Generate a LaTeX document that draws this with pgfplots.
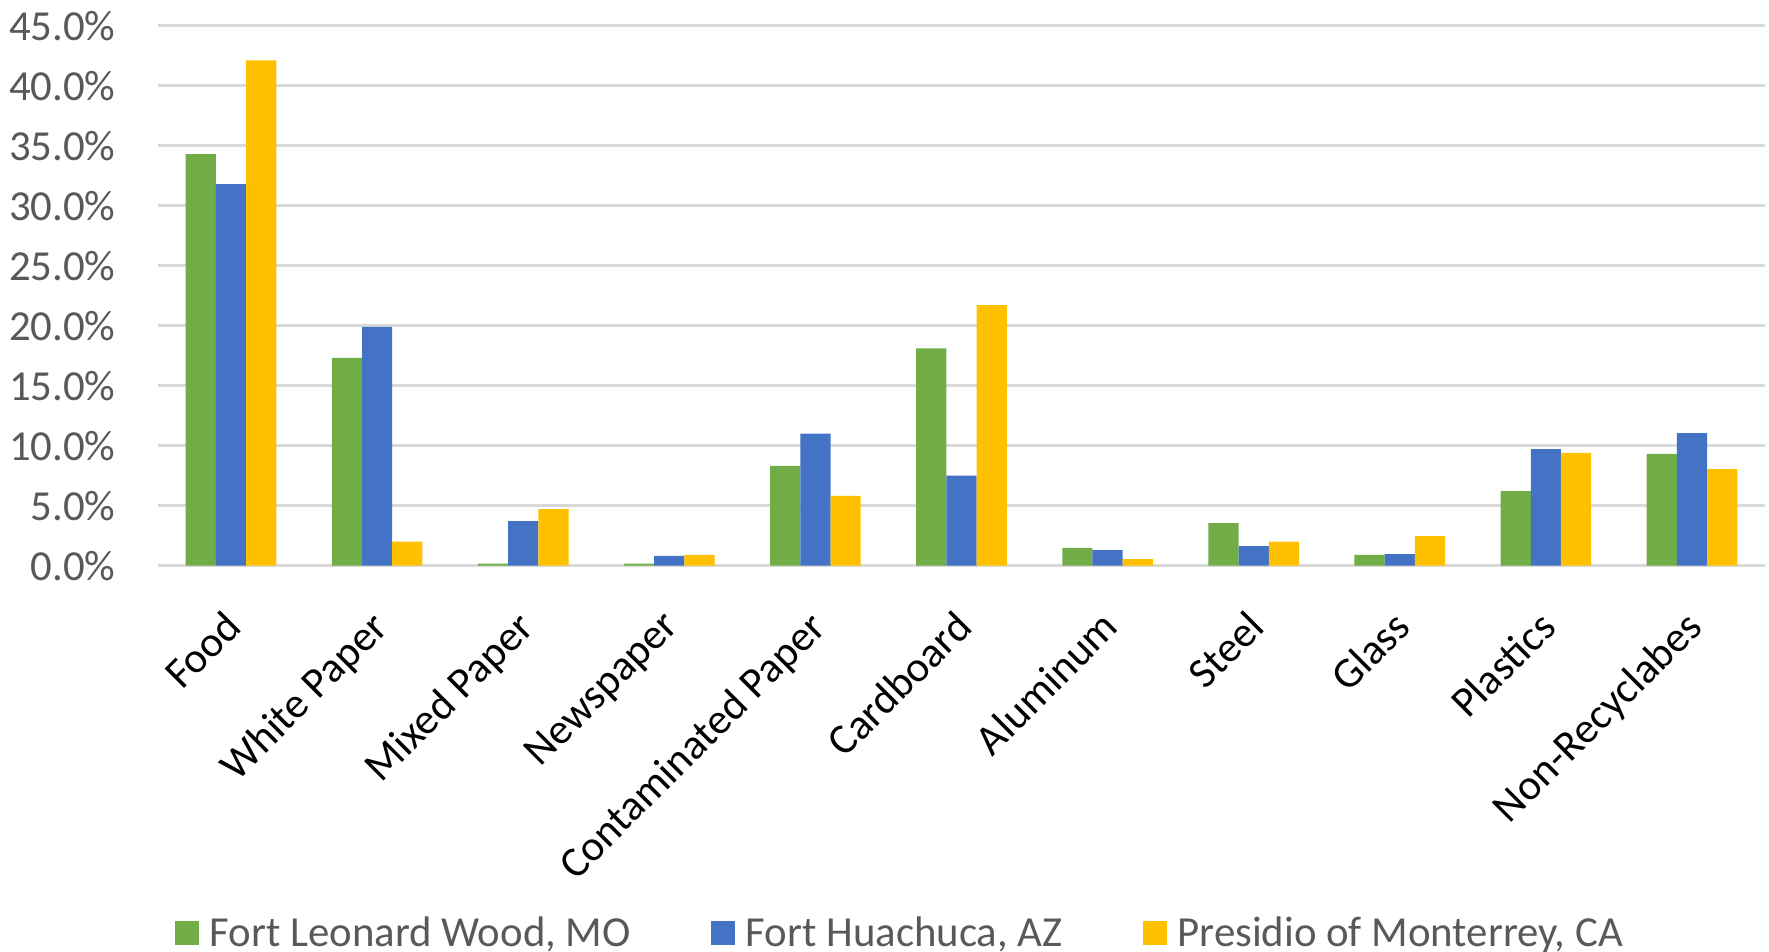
\documentclass[border=0pt]{standalone}
\usepackage{pgfplots}
\pgfplotsset{compat=1.18}
\usepackage{fontspec}
\setmainfont{Carlito}
\definecolor{cgreen}{HTML}{70AD47}
\definecolor{cblue}{HTML}{4472C4}
\definecolor{cyellow}{HTML}{FFC000}
\definecolor{cgrid}{HTML}{D9D9D9}
\definecolor{ctext}{HTML}{595959}
\begin{document}
\begin{tikzpicture}
\path[use as bounding box] (-79pt,-193.2pt) rectangle (805.5pt,282.8pt);
\begin{axis}[
  at={(0pt,0pt)}, anchor=south west,
  scale only axis,
  width=803.5pt, height=270pt,
  ybar=0pt, bar width=15.1pt,
  xmin=-0.5, xmax=10.5,
  ymin=0, ymax=45,
  ytick={0,5,...,45},
  xtick={0,...,10},
  xticklabels={Food,White Paper,Mixed Paper,Newspaper,Contaminated Paper,Cardboard,Aluminum,Steel,Glass,Plastics,Non-Recyclabes},
  yticklabel={\pgfmathprintnumber[fixed,fixed zerofill,precision=1]{\tick}\%},
  /pgf/number format/assume math mode=true,
  ymajorgrids, grid style={cgrid, line width=1.2pt},
  axis x line*=bottom, axis y line*=left,
  x axis line style={cgrid, line width=1.2pt},
  y axis line style={draw=none},
  major tick length=0pt,
  tick style={draw=none},
  clip=false,
  yticklabel style={font=\fontsize{21.4}{25}\selectfont, text=ctext, anchor=east, inner sep=0pt, xshift=-21pt},
  xticklabel style={font=\fontsize{21.4}{25}\selectfont, text=black, rotate=45, anchor=north east, inner sep=0pt, xshift=-18pt, yshift=-12pt},
  legend columns=3,
  legend style={at={(0.4622,-0.680)}, anchor=center, draw=none, fill=none,
    font=\fontsize{21.4}{25}\selectfont, text=ctext,
    /tikz/every odd column/.append style={column sep=3.5pt},
    /tikz/every even column/.append style={column sep=38pt}},
  legend image code/.code={\fill[#1] (0pt,-6pt) rectangle (12pt,6pt);},
]
\addplot[fill=cgreen, draw=none] coordinates {(0,34.3) (1,17.3) (2,0.16) (3,0.16) (4,8.3) (5,18.1) (6,1.47) (7,3.54) (8,0.9) (9,6.2) (10,9.3)};
\addlegendentry{Fort Leonard Wood, MO}
\addplot[fill=cblue, draw=none] coordinates {(0,31.8) (1,19.9) (2,3.7) (3,0.8) (4,11.0) (5,7.5) (6,1.28) (7,1.63) (8,0.96) (9,9.7) (10,11.04)};
\addlegendentry{Fort Huachuca, AZ}
\addplot[fill=cyellow, draw=none] coordinates {(0,42.1) (1,2.0) (2,4.7) (3,0.9) (4,5.8) (5,21.7) (6,0.54) (7,2.0) (8,2.46) (9,9.4) (10,8.04)};
\addlegendentry{Presidio of Monterrey, CA}
\end{axis}
\end{tikzpicture}
\end{document}
